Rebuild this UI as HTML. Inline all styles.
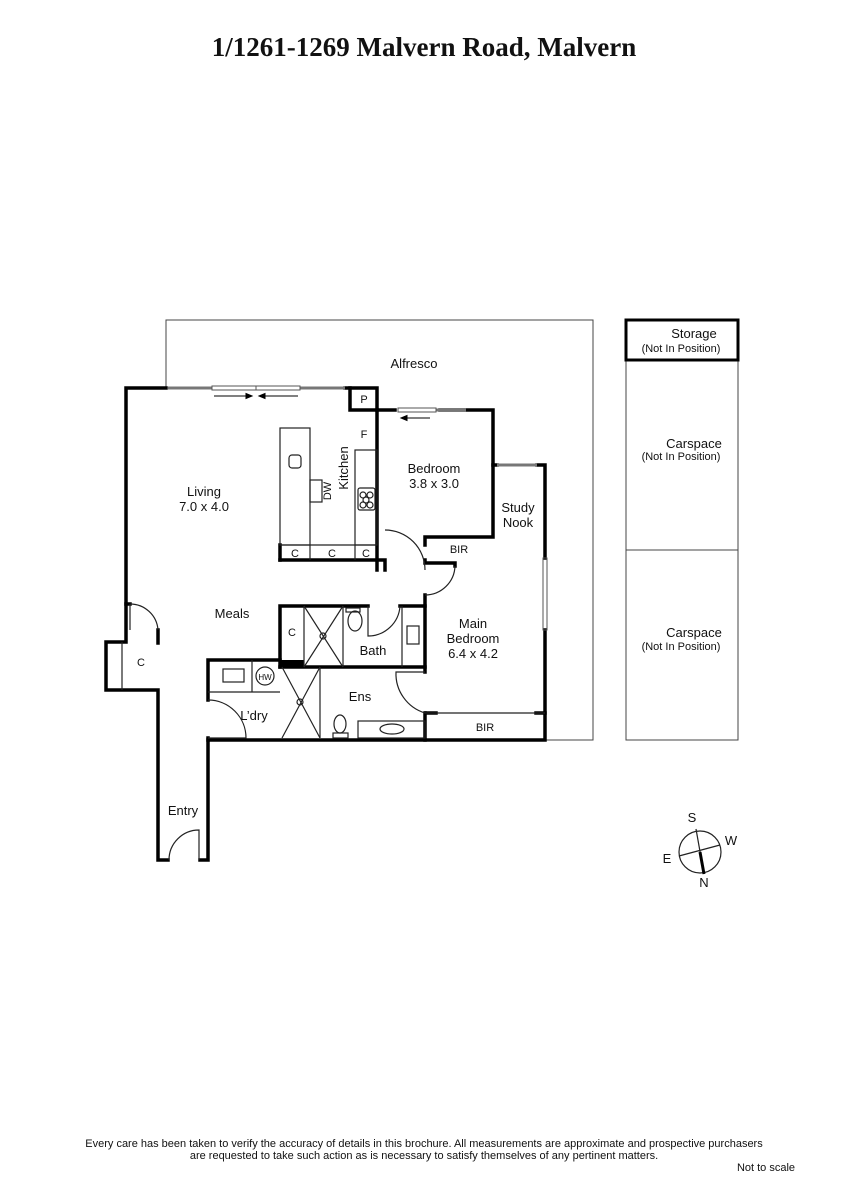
<!DOCTYPE html>
<html><head><meta charset="utf-8"><style>
body{margin:0;background:#fff;}
svg{display:block;}
text{font-family:"Liberation Sans",sans-serif;fill:#111;}
</style></head><body>
<svg width="848" height="1200" viewBox="0 0 848 1200" xmlns="http://www.w3.org/2000/svg">
<text x="424" y="56" text-anchor="middle" style="font-family:'Liberation Serif',serif;font-weight:bold;font-size:27px">1/1261-1269 Malvern Road, Malvern</text>

<g fill="none" stroke="#444" stroke-width="1">
<polyline points="166,388 166,320 593,320 593,740 545,740"/>
<rect x="626" y="360" width="112" height="190"/>
<rect x="626" y="550" width="112" height="190"/>
</g>
<rect x="626" y="320" width="112" height="40" fill="none" stroke="#000" stroke-width="3"/>

<g fill="none" stroke="#000" stroke-width="3.5" stroke-linecap="square">
<polyline points="166,388 126,388 126,642 106,642 106,690 158,690 158,860 168,860"/>
<polyline points="126,604 130,604"/>
<polyline points="200,860 208,860 208,740 280,740 545,740 545,630"/>
<polyline points="545,558 545,465 537,465"/>
<polyline points="497,465 493,465 493,410 440,410"/>
<polyline points="395,410 377,410 377,388 345,388"/>
<polyline points="350,388 350,410 377,410"/>
<line x1="377" y1="410" x2="377" y2="570"/>
<polyline points="280,560 385,560 385,570"/>
<line x1="280" y1="545" x2="280" y2="560"/>
<polyline points="425,545 425,537 493,537 493,465"/>
<polyline points="425,560 425,563 455,563 455,566"/>
<polyline points="158,630 158,643"/>
<polyline points="425,595 425,606 400,606"/>
<polyline points="368,606 280,606 280,667"/>
<polyline points="425,606 425,672"/>
<polyline points="425,713 425,740"/>
<polyline points="280,667 425,667"/>
<polyline points="208,700 208,660 280,660"/>
<line x1="208" y1="738" x2="208" y2="740"/>
<line x1="426" y1="713" x2="436" y2="713"/>
<line x1="536" y1="713" x2="545" y2="713"/>
</g>
<rect x="280" y="660" width="24" height="8" fill="#000"/>

<g stroke="#777" stroke-width="3">
<line x1="168" y1="388" x2="212" y2="388"/>
<line x1="300" y1="388" x2="345" y2="388"/>
<line x1="436" y1="410" x2="466" y2="410"/>
<line x1="497" y1="465" x2="537" y2="465"/>
</g>
<g fill="none" stroke="#555" stroke-width="1">
<rect x="212" y="386" width="44" height="4"/><rect x="256" y="386" width="44" height="4"/>
<rect x="398" y="408" width="38" height="4"/>
<rect x="543" y="558" width="4" height="72"/>
</g>
<g stroke="#000" stroke-width="1" fill="#000">
<line x1="214" y1="396" x2="248" y2="396"/><polygon points="252,396 246,393.5 246,398.5"/>
<line x1="264" y1="396" x2="298" y2="396"/><polygon points="259,396 265,393.5 265,398.5"/>
<line x1="406" y1="418" x2="430" y2="418"/><polygon points="401,418 407,415.5 407,420.5"/>
</g>

<g fill="none" stroke="#222" stroke-width="1.2">
<rect x="280" y="428" width="30" height="117"/>
<rect x="310" y="480" width="12" height="22"/>
<rect x="289" y="455" width="12" height="13" rx="3"/>
<rect x="355" y="450" width="22" height="95"/>
<rect x="358" y="488" width="17" height="22" rx="2"/>
<circle cx="363" cy="495" r="3"/><circle cx="370" cy="495" r="3"/><circle cx="366" cy="500" r="3"/><circle cx="363" cy="505" r="3"/><circle cx="370" cy="505" r="3"/>
<line x1="280" y1="545" x2="377" y2="545"/>
<line x1="310" y1="545" x2="310" y2="560"/><line x1="355" y1="545" x2="355" y2="560"/>
<line x1="122" y1="642" x2="122" y2="690"/>
<path d="M130,604 L130,630 M130,604 A28,28 0 0 1 158,630"/>
<path d="M385,530 A40,40 0 0 1 425,570"/>
<path d="M455,566 A30,30 0 0 1 425,595"/>
<path d="M169,860 A30,30 0 0 1 199,830 L199,860"/>
<path d="M208,700 A38,38 0 0 1 246,738 L208,738"/>
<path d="M368,606 L368,636 A32,32 0 0 0 400,606"/>
<path d="M425,672 L396,672 A41,41 0 0 0 425,713"/>
<line x1="304" y1="606" x2="304" y2="667"/><line x1="343" y1="606" x2="343" y2="667"/>
<line x1="304" y1="606" x2="343" y2="667"/><line x1="343" y1="606" x2="304" y2="667"/>
<circle cx="323" cy="636" r="3"/>
<rect x="346" y="608" width="14" height="4"/><ellipse cx="355" cy="621" rx="7" ry="10"/>
<line x1="402" y1="606" x2="402" y2="667"/><rect x="407" y="626" width="12" height="18"/>
<line x1="320" y1="667" x2="320" y2="738"/>
<line x1="282" y1="667" x2="320" y2="738"/><line x1="320" y1="667" x2="282" y2="738"/>
<circle cx="300" cy="702" r="3"/>
<ellipse cx="340" cy="724" rx="6" ry="9"/><rect x="333" y="733" width="15" height="5"/>
<rect x="358" y="721" width="67" height="17"/><ellipse cx="392" cy="729" rx="12" ry="5"/>
<line x1="208" y1="692" x2="280" y2="692"/><line x1="252" y1="660" x2="252" y2="692"/>
<rect x="223" y="669" width="21" height="13"/><circle cx="265" cy="676" r="9"/>
<line x1="425" y1="713" x2="545" y2="713"/>
<circle cx="700" cy="852" r="21"/>
<line x1="696" y1="829" x2="704" y2="874"/>
<line x1="679" y1="856" x2="720" y2="845"/>
</g>
<line x1="700" y1="852" x2="704" y2="874" stroke="#000" stroke-width="3"/>

<g font-size="13" text-anchor="middle">
<text x="414" y="368">Alfresco</text>
<text x="204" y="496">Living</text><text x="204" y="511">7.0 x 4.0</text>
<text x="434" y="473">Bedroom</text><text x="434" y="488">3.8 x 3.0</text>
<text x="518" y="512">Study</text><text x="518" y="527">Nook</text>
<text x="232" y="618">Meals</text>
<text x="473" y="628">Main</text><text x="473" y="643">Bedroom</text><text x="473" y="658">6.4 x 4.2</text>
<text x="373" y="655">Bath</text>
<text x="360" y="701">Ens</text>
<text x="254" y="720">L’dry</text>
<text x="183" y="815">Entry</text>
<text x="348" y="468" transform="rotate(-90 348 468)">Kitchen</text>
<text x="694" y="338">Storage</text>
<text x="694" y="448">Carspace</text>
<text x="694" y="637">Carspace</text>
<text x="692" y="822">S</text><text x="731" y="845">W</text><text x="667" y="863">E</text><text x="704" y="887">N</text>
</g>
<g font-size="11" text-anchor="middle">
<text x="364" y="403">P</text><text x="364" y="438">F</text>
<text x="331" y="491" transform="rotate(-90 331 491)">DW</text>
<text x="295" y="557">C</text><text x="332" y="557">C</text><text x="366" y="557">C</text>
<text x="459" y="553">BIR</text><text x="485" y="731">BIR</text>
<text x="141" y="666">C</text><text x="292" y="636">C</text>
<text x="265" y="680" font-size="8">HW</text>
<text x="681" y="352">(Not In Position)</text>
<text x="681" y="460">(Not In Position)</text>
<text x="681" y="650">(Not In Position)</text>
<text x="424" y="1147">Every care has been taken to verify the accuracy of details in this brochure.  All measurements are approximate and prospective purchasers</text>
<text x="424" y="1159">are requested to take such action as is necessary to satisfy themselves of any pertinent matters.</text>
<text x="766" y="1171">Not to scale</text>
</g>
</svg>
</body></html>
